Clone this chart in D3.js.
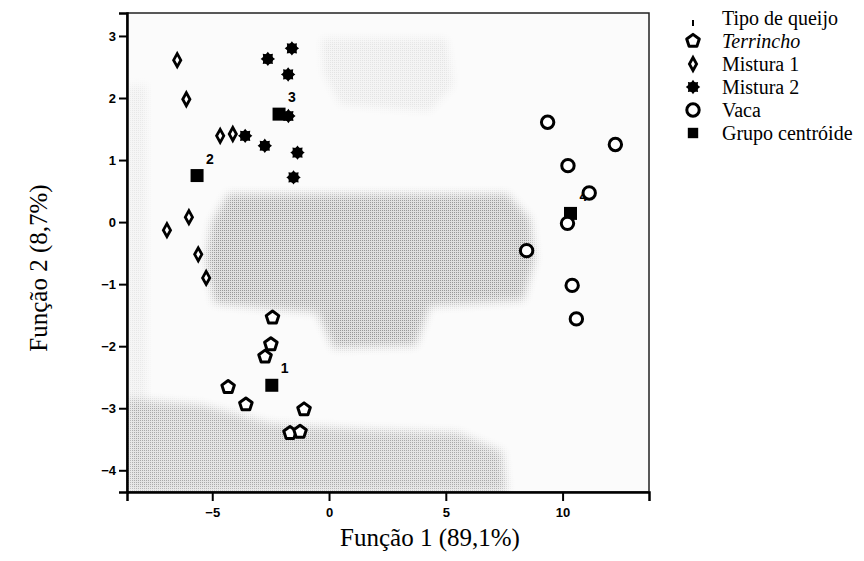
<!DOCTYPE html>
<html>
<head>
<meta charset="utf-8">
<script src="https://cdn.jsdelivr.net/npm/d3@7"></script>
<style>
  body { margin: 0; background: #fff; }
  svg { display: block; }
</style>
</head>
<body>
<div id="chart"></div>
<script>
// discriminant scores (Função 1, Função 2)
const terrincho = [
  [-2.42, -1.54], [-2.49, -1.97], [-2.74, -2.17], [-4.32, -2.66],
  [-3.56, -2.94], [-1.07, -3.02], [-1.67, -3.40], [-1.24, -3.38]
];
const mistura1 = [
  [-6.50, 2.61], [-6.11, 1.98], [-4.66, 1.39], [-4.12, 1.42],
  [-6.00, 0.08], [-6.94, -0.13], [-5.60, -0.52], [-5.26, -0.90]
];
const mistura2 = [
  [-1.59, 2.80], [-2.62, 2.63], [-1.75, 2.38], [-1.74, 1.71],
  [-3.59, 1.39], [-2.75, 1.23], [-1.35, 1.12], [-1.52, 0.72]
];
const vaca = [
  [9.36, 1.61], [12.26, 1.25], [10.23, 0.91], [11.14, 0.47],
  [10.21, -0.02], [8.46, -0.46], [10.41, -1.02], [10.59, -1.56]
];
const centroids = [
  ["1", -2.45, -2.63], ["2", -5.65, 0.75], ["3", -2.14, 1.74], ["4", 10.34, 0.14]
];
const xTicks = [-5, 0, 5, 10];
const yTicks = [3, 2, 1, 0, -1, -2, -3, -4];
const legendLabels = ["Terrincho", "Mistura 1", "Mistura 2", "Vaca", "Grupo centróide"];

// grey territorial-map shading behind the points
const shadeCentre = [
  [-4.3, 0.45], [7.6, 0.45], [8.6, 0.05], [8.8, -0.6], [8.3, -1.25], [4.3, -1.35],
  [3.7, -1.98], [0.2, -2.02], [-0.5, -1.45], [-4.9, -1.3], [-5.25, -0.6], [-5.0, 0.0]
];
const shadeBottom = [
  [-8.65, -2.85], [-5.5, -2.95], [-2.5, -3.25], [1.5, -3.35], [5.5, -3.4],
  [7.4, -3.7], [7.6, -4.35], [-8.65, -4.35]
];
const shadeTop = [
  [-0.3, 2.95], [5.0, 2.95], [5.3, 2.2], [4.3, 1.8], [0.5, 1.9], [-0.2, 2.4]
];
const shadeLeft = [
  [-8.65, 2.2], [-7.8, 2.2], [-7.8, -3.0], [-8.65, -3.0]
];

const svg = d3.select("#chart")
  .append("svg")
  .attr("width", 864)
  .attr("height", 561);

const x = d3.scaleLinear().domain([-8.65, 13.7]).range([127, 649]);
const y = d3.scaleLinear().domain([3.37, -4.35]).range([13, 492]);

const defs = svg.append("defs");
defs.append("filter")
  .attr("id", "soft")
  .attr("x", "-20%").attr("y", "-20%").attr("width", "140%").attr("height", "140%")
  .append("feGaussianBlur")
  .attr("stdDeviation", 4);

// dither-like pattern
const pat = defs.append("pattern")
  .attr("id", "dots")
  .attr("patternUnits", "userSpaceOnUse")
  .attr("width", 2).attr("height", 2);
pat.append("rect").attr("width", 2).attr("height", 2).attr("fill", "#dcdcdc");
pat.append("rect").attr("width", 1).attr("height", 1).attr("fill", "#8c8c8c");

const area = d3.line().x(d => x(d[0])).y(d => y(d[1]));
const plotW = x(13.7) - x(-8.65);
const plotH = y(-4.35) - y(3.37);

const plot = svg.append("g");

const addShade = (id, pts, opacity) => {
  defs.append("mask").attr("id", id)
    .append("path")
    .attr("d", area(pts) + "Z")
    .attr("fill", "#fff")
    .attr("fill-opacity", opacity)
    .attr("filter", "url(#soft)");
  plot.append("rect")
    .attr("x", x(-8.65)).attr("y", y(3.37))
    .attr("width", plotW).attr("height", plotH)
    .attr("fill", "url(#dots)")
    .attr("mask", `url(#${id})`);
};

plot.append("rect")
  .attr("x", x(-8.65)).attr("y", y(3.37))
  .attr("width", plotW).attr("height", plotH)
  .attr("fill", "#fbfbfb");

addShade("m-top", shadeTop, 0.22);
addShade("m-left", shadeLeft, 0.18);
addShade("m-bottom", shadeBottom, 0.75);
addShade("m-centre", shadeCentre, 0.9);

// frame
plot.append("rect")
  .attr("x", x(-8.65)).attr("y", y(3.37))
  .attr("width", plotW).attr("height", plotH)
  .attr("fill", "none").attr("stroke", "#222").attr("stroke-width", 1.5);

// axes
const xAxis = svg.append("g")
  .attr("transform", `translate(0,${y(-4.35)})`)
  .call(d3.axisBottom(x).tickValues(xTicks).tickSize(9).tickPadding(7));
const yAxis = svg.append("g")
  .attr("transform", `translate(${x(-8.65)},0)`)
  .call(d3.axisLeft(y).tickValues(yTicks).tickSize(8).tickPadding(3));

[xAxis, yAxis].forEach(a => {
  a.select(".domain").attr("stroke", "#000").attr("stroke-width", 2.5);
  a.selectAll(".tick line").attr("stroke", "#000").attr("stroke-width", 2);
  a.selectAll(".tick text")
    .attr("fill", "#000")
    .style("font-family", "'Liberation Sans', Arial, sans-serif")
    .style("font-weight", "bold")
    .style("font-size", "13px");
});

// marker shapes
const polygon = (n, r, rot) => d3.range(n).map(i => {
  const a = rot + i * 2 * Math.PI / n;
  return [r * Math.cos(a), r * Math.sin(a)];
});
const starPts = d3.range(16).map(i => {
  const a = -Math.PI / 2 + i * Math.PI / 8;
  const r = i % 2 === 0 ? 7.2 : 5;
  return [r * Math.cos(a), r * Math.sin(a)];
});
const closed = d3.line();
const shapes = {
  pentagon: closed(polygon(5, 6.6, -Math.PI / 2)) + "Z",
  diamond: closed([[0, -6.5], [3.6, 0], [0, 6.5], [-3.6, 0]]) + "Z",
  star: closed(starPts) + "Z",
  square: closed([[-6.5, -6.5], [6.5, -6.5], [6.5, 6.5], [-6.5, 6.5]]) + "Z"
};

const drawShape = (g, shape) => {
  if (shape === "pentagon") {
    g.append("path").attr("d", shapes.pentagon)
      .attr("fill", "#fff").attr("stroke", "#000").attr("stroke-width", 3)
      .attr("stroke-linejoin", "round");
  } else if (shape === "diamond") {
    g.append("path").attr("d", shapes.diamond)
      .attr("fill", "#fff").attr("stroke", "#000").attr("stroke-width", 2.8);
  } else if (shape === "star") {
    g.append("path").attr("d", shapes.star).attr("fill", "#000");
    g.append("circle").attr("r", 5.3).attr("fill", "#000");
  } else if (shape === "circle") {
    g.append("circle").attr("r", 6.2)
      .attr("fill", "#fff").attr("stroke", "#000").attr("stroke-width", 3);
  } else if (shape === "square") {
    g.append("path").attr("d", shapes.square).attr("fill", "#000");
  }
};

const groups = [
  { data: terrincho, shape: "pentagon" },
  { data: mistura1, shape: "diamond" },
  { data: mistura2, shape: "star" },
  { data: vaca, shape: "circle" }
];

// centroids go under the Vaca circles so "4" sits partly hidden, as in the source
const cg = svg.append("g")
  .selectAll("g")
  .data(centroids)
  .join("g")
  .attr("transform", d => `translate(${x(d[1])},${y(d[2])})`);
cg.each(function() { drawShape(d3.select(this), "square"); });
cg.append("text")
  .text(d => d[0])
  .attr("x", 9)
  .attr("y", -12)
  .style("font-family", "'Liberation Sans', Arial, sans-serif")
  .style("font-weight", "bold")
  .style("font-size", "14px");

groups.forEach(grp => {
  svg.append("g")
    .selectAll("g")
    .data(grp.data)
    .join("g")
    .attr("transform", d => `translate(${x(d[0])},${y(d[1])})`)
    .each(function() { drawShape(d3.select(this), grp.shape); });
});

// axis titles
const serif = "'Liberation Serif', 'Times New Roman', serif";
svg.append("text")
  .text("Função 1 (89,1%)")
  .attr("x", 430)
  .attr("y", 546)
  .attr("text-anchor", "middle")
  .style("font-family", serif)
  .style("font-size", "25px");

svg.append("text")
  .text("Função 2 (8,7%)")
  .attr("transform", "translate(47,268) rotate(-90)")
  .attr("text-anchor", "middle")
  .style("font-family", serif)
  .style("font-size", "25px");

// legend
const legend = svg.append("g").attr("transform", "translate(693,0)");
const rowY = i => 18 + i * 23;

legend.append("line")
  .attr("x1", 0).attr("x2", 0).attr("y1", 20).attr("y2", 26)
  .attr("stroke", "#000").attr("stroke-width", 2);
legend.append("text")
  .text("Tipo de queijo")
  .attr("x", 29).attr("y", rowY(0))
  .attr("dy", "0.33em")
  .style("font-family", serif)
  .style("font-size", "20px");

const legendShapes = ["pentagon", "diamond", "star", "circle", "square"];
const rows = legend.selectAll("g.row")
  .data(legendLabels)
  .join("g")
  .attr("class", "row")
  .attr("transform", (d, i) => `translate(0,${rowY(i + 1)})`);
rows.each(function(d, i) {
  const g = d3.select(this).append("g");
  drawShape(g, legendShapes[i]);
  if (legendShapes[i] === "square") g.attr("transform", "scale(0.8)");
});
rows.append("text")
  .text(d => d)
  .attr("x", 29)
  .attr("dy", "0.33em")
  .style("font-family", serif)
  .style("font-style", d => d === "Terrincho" ? "italic" : "normal")
  .style("font-size", "20px");
</script>
</body>
</html>
